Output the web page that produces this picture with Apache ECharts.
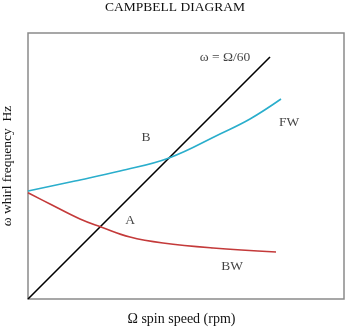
<!DOCTYPE html>
<html>
<head>
<meta charset="utf-8">
<script src="https://cdn.jsdelivr.net/npm/echarts@6/dist/echarts.min.js"></script>
<style>html,body{margin:0;padding:0;background:#fff}#c{width:346px;height:332px}</style>
</head>
<body>
<div id="c"></div>
<script>
// Spin speed Ω (rpm) and whirl frequency ω (Hz)
const fwSpeed = [0, 470, 920, 1410, 1920, 2220, 2530];
const fwFreq  = [18.0, 19.67, 21.33, 23.5, 27.5, 30.0, 33.33];
const bwSpeed = [0, 220, 520, 730, 1020, 1350, 1850, 2480];
const bwFreq  = [17.7, 15.83, 13.33, 12.0, 10.33, 9.33, 8.5, 7.83];
const lineSpeed = [0, 2420];
const lineFreq = lineSpeed.map(s => s / 60); // ω = Ω/60
const annoText = ['B', 'A', 'FW', 'BW', 'ω = Ω/60'];
const annoSpeed = [1180, 1020, 2610, 2040, 1970];
const annoFreq = [27.0, 13.17, 29.5, 5.5, 40.33];

const zip = (a, b) => a.map((v, i) => [v, b[i]]);
const serif = '"Liberation Serif", "DejaVu Serif", serif';

const chart = echarts.init(document.getElementById('c'), null, {renderer: 'canvas'});
chart.setOption({
  animation: false,
  backgroundColor: '#fff',
  title: {
    text: 'CAMPBELL DIAGRAM',
    left: 175, top: 0, padding: 0, textAlign: 'center',
    textStyle: {fontFamily: serif, fontSize: 13.5, fontWeight: 'normal', color: '#111'}
  },
  grid: {left: 28, right: 2, top: 33, bottom: 33, outerBoundsMode: 'none', containLabel: false,
         show: true, borderColor: '#8a8a8a', borderWidth: 1.5, backgroundColor: 'transparent'},
  xAxis: {
    type: 'value', min: 0, max: 3160,
    name: 'Ω spin speed (rpm)', nameLocation: 'middle', nameGap: 13,
    nameTextStyle: {fontFamily: serif, fontSize: 14, color: '#111', padding: [0, 9, 0, 0]},
    axisLine: {show: false}, axisTick: {show: false}, axisLabel: {show: false}, splitLine: {show: false}
  },
  yAxis: {
    type: 'value', min: 0, max: 44.33,
    name: 'ω whirl frequency  Hz', nameLocation: 'middle', nameGap: 14, nameRotate: 90,
    nameTextStyle: {fontFamily: serif, fontSize: 13.5, color: '#111'},
    axisLine: {show: false}, axisTick: {show: false}, axisLabel: {show: false}, splitLine: {show: false}
  },
  series: [
    {type: 'line', data: zip(lineSpeed, lineFreq), showSymbol: false, lineStyle: {color: '#000', width: 1.6}},
    {type: 'line', data: zip(fwSpeed, fwFreq), smooth: 0.4, showSymbol: false, lineStyle: {color: '#2aaecc', width: 1.6}},
    {type: 'line', data: zip(bwSpeed, bwFreq), smooth: 0.4, showSymbol: false, lineStyle: {color: '#c43a3a', width: 1.6}},
    {type: 'scatter', symbolSize: 0, silent: true,
     data: annoText.map((t, i) => ({value: [annoSpeed[i], annoFreq[i]], name: t})),
     label: {show: true, position: 'inside', formatter: p => p.name, fontFamily: serif, fontSize: 13.5, color: '#111'}}
  ]
});
</script>
</body>
</html>
